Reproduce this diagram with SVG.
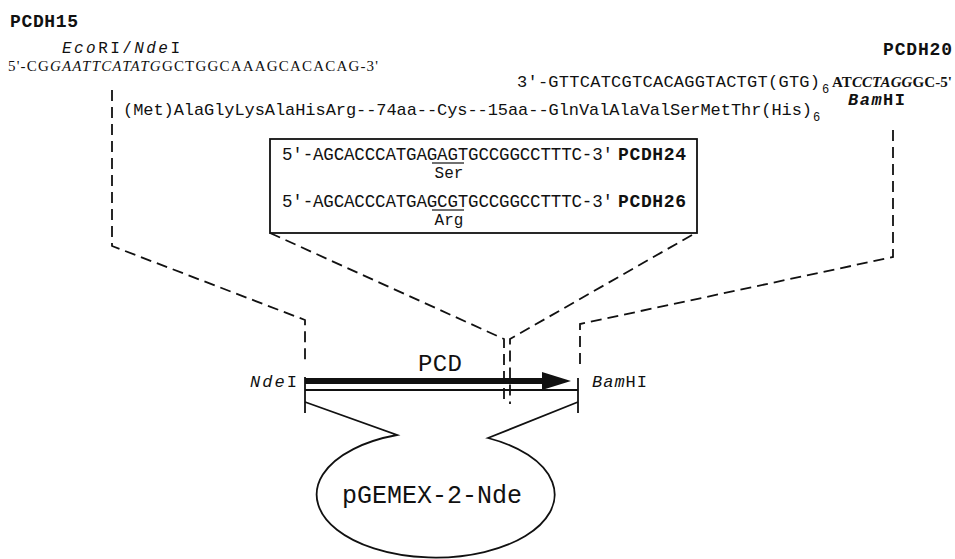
<svg xmlns="http://www.w3.org/2000/svg" width="955" height="559" viewBox="0 0 955 559">
<style>
text{font-family:"Liberation Mono","Courier New",monospace;fill:#111}
.b{font-weight:bold}
.i{font-style:italic}
.serif{font-family:"Liberation Serif","Times New Roman",serif}
.dash{fill:none;stroke:#111;stroke-width:1.8;stroke-dasharray:11 6}
.solid{fill:none;stroke:#111;stroke-width:1.8}
</style>
<rect width="955" height="559" fill="#fff"/>

<g id="primer-pcdh15">
<text class="b" x="10" y="27" font-size="18" textLength="68" lengthAdjust="spacing">PCDH15</text>
<text x="62" y="53" font-size="16" textLength="118" lengthAdjust="spacing"><tspan class="i">Eco</tspan>RI/<tspan class="i">Nde</tspan>I</text>
<text class="serif" x="8" y="71" font-size="15" textLength="370" lengthAdjust="spacing">5'-CG<tspan class="i">GAATTCATATG</tspan>GCTGGCAAAGCACACAG-3'</text>
</g>

<g id="primer-pcdh20">
<text class="b" x="883" y="55" font-size="18" textLength="69" lengthAdjust="spacing">PCDH20</text>
<text x="517" y="87" font-size="17" textLength="303" lengthAdjust="spacing">3'-GTTCATCGTCACAGGTACTGT(GTG)</text>
<text x="822" y="93" font-size="12">6</text>
<text class="serif b" x="832" y="87" font-size="15" textLength="120" lengthAdjust="spacing">AT<tspan class="i">CCTAGG</tspan>GC-5'</text>
<text class="b" x="848" y="105" font-size="17" textLength="57" lengthAdjust="spacing"><tspan class="i">Bam</tspan>HI</text>
</g>

<g id="protein">
<text x="123" y="115" font-size="17" textLength="689" lengthAdjust="spacing">(Met)AlaGlyLysAlaHisArg--74aa--Cys--15aa--GlnValAlaValSerMetThr(His)</text>
<text x="813" y="121" font-size="12">6</text>
</g>

<g id="mutagenesis-box">
<rect x="270" y="139" width="427" height="94" class="solid" stroke-width="2"/>
<text x="282" y="160" font-size="17.5" textLength="331" lengthAdjust="spacing">5'-AGCACCCATGAGAGTGCCGGCCTTTC-3'</text>
<line x1="432" y1="163" x2="464" y2="163" stroke="#111" stroke-width="1.2"/>
<text x="449" y="178" font-size="16" text-anchor="middle">Ser</text>
<text class="b" x="618" y="160" font-size="18" textLength="68" lengthAdjust="spacing">PCDH24</text>
<text x="282" y="207" font-size="17.5" textLength="331" lengthAdjust="spacing">5'-AGCACCCATGAGCGTGCCGGCCTTTC-3'</text>
<line x1="432" y1="210" x2="464" y2="210" stroke="#111" stroke-width="1.2"/>
<text x="449" y="225" font-size="16" text-anchor="middle">Arg</text>
<text class="b" x="618" y="207" font-size="18" textLength="68" lengthAdjust="spacing">PCDH26</text>
</g>

<g id="insert">
<text x="418" y="371" font-size="24" textLength="44" lengthAdjust="spacing">PCD</text>
<text x="250" y="387" font-size="17" textLength="47" lengthAdjust="spacing"><tspan class="i">Nde</tspan>I</text>
<text x="592" y="387" font-size="17" textLength="55" lengthAdjust="spacing"><tspan class="i">Bam</tspan>HI</text>
<line x1="305" y1="381" x2="546" y2="381" stroke="#111" stroke-width="6"/>
<polygon points="542,372 571,381 542,390" fill="#111"/>
<line x1="305" y1="390" x2="578" y2="390" class="solid"/>
<line x1="305" y1="377" x2="305" y2="413" class="solid"/>
<line x1="578" y1="378" x2="578" y2="413" class="solid"/>
</g>

<g id="vector">
<path class="solid" d="M305,402 L397,435 A119,63 0 1 0 488,438 L578,402"/>
<text x="342" y="503" font-size="25" textLength="180" lengthAdjust="spacing">pGEMEX-2-Nde</text>
</g>

<g id="connectors">
<polyline class="dash" points="112,90 112,246 305,320 305,364"/>
<polyline class="dash" points="893,130 893,257 580,324 580,370"/>
<polyline class="dash" points="270,233 504,339 504,404"/>
<polyline class="dash" points="692,235 510,339 510,404"/>
</g>
</svg>
